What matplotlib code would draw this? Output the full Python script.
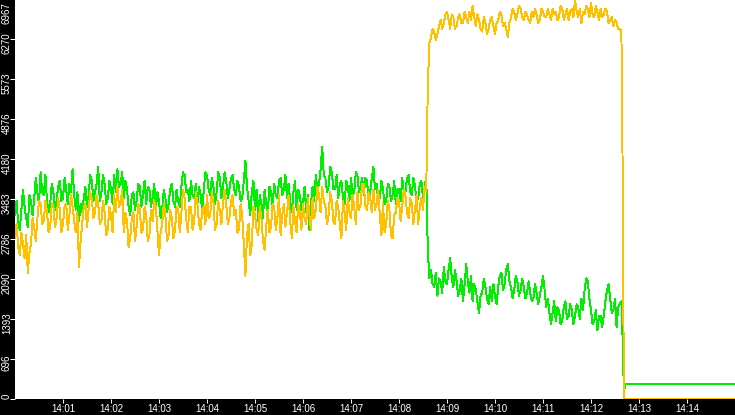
import numpy as np
import matplotlib
matplotlib.use("Agg")
import matplotlib.pyplot as plt

# ---- data ----
# sample times in seconds after 14:00:00
t_pre = np.arange(0, 516, 2)
t_post = np.arange(516, 760, 2)
t_tail = [760, 761, 763, 900]

green_pre = [
    3200, 3450, 3050, 2950, 3300, 3650, 3350, 3150, 3000, 3550, 3450, 3200, 3500, 3850, 3600, 3400, 3950, 3600, 3550, 3900,
    3450, 3250, 3400, 3750, 3600, 3300, 3450, 3700, 3800, 3450, 3500, 3850, 3650, 3400, 3750, 3600, 4000, 3550, 3300, 3600,
    3100, 3400, 3250, 3500, 3700, 3350, 3550, 3900, 3800, 3450, 3600, 3750, 4050, 3450, 3600, 3900, 3750, 3400, 3500, 3800,
    3650, 3400, 3900, 3600, 4000, 3700, 3750, 3950, 3500, 3800, 3650, 3350, 3200, 3550, 3600, 3300, 3450, 3750, 3700, 3350,
    3550, 3800, 3400, 3700, 3650, 3350, 3500, 3750, 3300, 3600, 3450, 3150, 3300, 3650, 3500, 3250, 3400, 3650, 3750, 3450,
    3350, 3650, 3450, 3350, 3700, 3950, 3900, 3600, 3650, 3450, 3800, 3550, 3500, 3750, 3400, 3700, 3550, 3300, 3650, 3950,
    3900, 3650, 3550, 3850, 3700, 3400, 3600, 3950, 3850, 3500, 3700, 3950, 3800, 3500, 3650, 3850, 3900, 3650, 3550, 3800,
    3700, 3450, 3500, 3800, 4150, 3700, 3450, 3200, 3600, 3800, 3300, 3650, 3100, 3550, 3400, 3150, 3650, 3400, 3250, 3700,
    3600, 3350, 3750, 3550, 3500, 3800, 3850, 3550, 3650, 3900, 3500, 3750, 3450, 3250, 3600, 3800, 3300, 3650, 3550, 3300,
    3400, 3700, 3250, 3550, 2950, 3400, 3700, 3450, 3900, 3650, 3750, 4000, 4400, 3900, 3850, 3600, 3700, 4050, 3950, 3650,
    3650, 3900, 3500, 3750, 3800, 3500, 3400, 3800, 3700, 3450, 3850, 3550, 3600, 3950, 3900, 3600, 3700, 3850, 3550, 3850,
    3800, 3500, 3600, 3850, 4050, 3650, 3750, 3450, 3500, 3800, 3650, 3400, 3450, 3750, 3700, 3450, 3550, 3800, 3400, 3650,
    3650, 3450, 3850, 3600, 3600, 3850, 3900, 3600, 3550, 3850, 3700, 3450, 3500, 3750, 3800, 3500, 3650, 3900,
]
orange_pre = [
    2800, 3050, 2650, 2500, 2900, 2700, 2450, 2850, 2200, 2550, 2700, 3150, 3000, 2750, 3150, 3450, 3400, 3050, 3100, 3450,
    3250, 2900, 3000, 3400, 3350, 3000, 3150, 3500, 3300, 2900, 3050, 3350, 3400, 2950, 3200, 3550, 3350, 3100, 2900, 3250,
    2300, 2750, 3050, 3350, 3400, 3000, 3300, 3600, 3500, 3150, 3250, 3550, 3400, 3050, 3100, 3450, 3250, 2850, 2950, 3350,
    3200, 2900, 3550, 3250, 3700, 3350, 3400, 3650, 2900, 3250, 3100, 2650, 2800, 3150, 3250, 2750, 3000, 3400, 3300, 2900,
    2950, 3350, 3200, 2750, 2850, 3300, 3100, 3450, 3350, 2950, 2500, 2900, 3050, 3400, 3200, 2750, 2850, 3300, 3150, 2800,
    2950, 3350, 3300, 2900, 3250, 3650, 3500, 3150, 2900, 3350, 3350, 2950, 3100, 3600, 3400, 3050, 2950, 3300, 3350, 3050,
    3550, 3150, 3200, 3600, 3450, 2950, 3050, 3450, 3300, 3050, 3400, 3650, 3400, 3050, 3150, 3450, 3550, 3200, 3300, 2900,
    2950, 3400, 3200, 2700, 2150, 2850, 3050, 2500, 2700, 3350, 3200, 2950, 2850, 3350, 3150, 2750, 2600, 3000, 3300, 2900,
    3000, 3400, 3350, 2950, 3150, 3550, 2850, 3200, 3400, 3000, 3250, 3550, 3100, 2800, 3350, 3100, 2900, 3400, 3250, 2950,
    3400, 3150, 3050, 3500, 3200, 2950, 3500, 3150, 3300, 3700, 3550, 3250, 3700, 3450, 3350, 3050, 3200, 3600, 3450, 3100,
    3050, 3450, 3350, 3050, 2800, 3450, 3250, 2950, 3500, 3250, 3150, 3550, 3350, 3050, 3600, 3300, 3400, 3750, 3750, 3350,
    3300, 3600, 3500, 3250, 3650, 3300, 3400, 3650, 3200, 2850, 3400, 2900, 3050, 3450, 3300, 2850, 2800, 3200, 3250, 3500,
    3450, 3100, 3350, 3650, 3550, 3250, 3150, 3500, 3400, 3050, 3300, 3550, 3050, 3350, 3500, 3300, 3700, 3600,
]
green_post = [
    2600, 2100, 2250, 2000, 1950, 2200, 1800, 2100, 2050, 1850, 2300, 2050, 2000, 2250, 2450, 2100, 1950, 2250, 2050, 1800,
    1900, 2100, 1700, 2000, 2350, 2050, 1850, 2150, 1700, 2000, 1900, 1700, 1500, 1800, 1850, 2100, 1950, 1750, 1650, 1950,
    1700, 2000, 1800, 1650, 1950, 2150, 2200, 1900, 2000, 2250, 2350, 2050, 1950, 1750, 1900, 2150, 2050, 1800, 1900, 2100,
    1950, 1750, 1850, 2050, 1850, 1700, 1750, 2000, 1850, 1650, 1800, 1950, 2150, 1900, 1600, 1750, 1500, 1300, 1500, 1700,
    1350, 1600, 1550, 1300, 1350, 1600, 1700, 1400, 1450, 1650, 1550, 1300, 1450, 1650, 1600, 1400, 1750, 1550, 1900, 2100,
    2050, 1750, 1550, 1300, 1350, 1550, 1200, 1450, 1450, 1250, 1450, 1700, 1900, 2000, 1750, 1500, 1550, 1750, 1250, 1600,
    1650, 1700,
]
orange_post = [
    5450, 6200, 6300, 6450, 6400, 6250, 6350, 6500, 6600, 6450, 6550, 6700, 6750, 6600, 6450, 6700, 6650, 6450, 6500, 6650,
    6700, 6550, 6550, 6750, 6650, 6550, 6750, 6600, 6850, 6650, 6500, 6700, 6600, 6450, 6400, 6650, 6550, 6350, 6450, 6600,
    6650, 6500, 6350, 6550, 6600, 6750, 6700, 6500, 6550, 6450, 6300, 6550, 6650, 6800, 6750, 6600, 6700, 6850, 6800, 6650,
    6600, 6750, 6700, 6600, 6550, 6750, 6650, 6800, 6700, 6550, 6600, 6800, 6750, 6650, 6650, 6800, 6700, 6600, 6800, 6700,
    6750, 6600, 6650, 6850, 6800, 6600, 6700, 6800, 6600, 6750, 6800, 6650, 6950, 6750, 6650, 6800, 6550, 6750, 6700, 6850,
    6800, 6650, 6900, 6700, 6650, 6850, 6750, 6600, 6800, 6650, 6700, 6800, 6750, 6550, 6600, 6650, 6500, 6600, 6550, 6450,
    6450, 6400,
]
green_tail = [850, 120, 265, 265]
orange_tail = [3300, 0, 0, 0]

x_tick_sec = [60 * m for m in range(1, 15)]
x_tick_labels = ["14:%02d" % m for m in range(1, 15)]
y_ticks = [0, 696, 1393, 2090, 2786, 3483, 4180, 4876, 5573, 6270, 6967]
y_tick_labels = [str(v) for v in y_ticks]

# ---- figure ----
W, H = 735, 415
FONT = dict(family=["Liberation Sans", "DejaVu Sans"], size=7)
fig = plt.figure(figsize=(W / 100, H / 100), dpi=100, facecolor="black")
ax = fig.add_axes([15 / W, 16 / H, 720 / W, 399 / H])
ax.set_facecolor("white")
for s in ax.spines.values():
    s.set_visible(False)

t_all = np.concatenate([t_pre, t_post, t_tail])
green = np.concatenate([green_pre, green_post, green_tail])
orange = np.concatenate([orange_pre, orange_post, orange_tail])

ax.plot(t_all, green, color="#00ee00", lw=0.7, antialiased=False)
ax.plot(t_all, orange, color="#ffc000", lw=0.7, antialiased=False)

YMAX = 6951
ax.set_xlim(0, 900)
ax.set_ylim(0, YMAX)

ax.set_xticks(x_tick_sec, labels=x_tick_labels)
ax.tick_params(axis="x", colors="white", length=3.0, width=0.75, pad=0.3,
               direction="out")
for lab in ax.get_xticklabels():
    lab.set_fontfamily(FONT["family"])
    lab.set_fontsize(FONT["size"])
ax.set_yticks([v for v in y_ticks if v <= YMAX])
ax.tick_params(axis="y", colors="white", length=3.6, width=0.75,
               labelleft=False, direction="out")

ytrans = ax.get_yaxis_transform()
for v, lab in zip(y_ticks, y_tick_labels):
    if v == 0:
        va, dy, yy = "bottom", 0, v
    elif v > YMAX:
        va, dy, yy = "top", -2, YMAX
    else:
        va, dy, yy = "center", -4, v
    ax.annotate(lab, xy=(0, yy), xycoords=ytrans, xytext=(-8, dy),
                textcoords="offset pixels", rotation=90, ha="center", va=va,
                color="white", annotation_clip=False, **FONT)

fig.savefig("out.png", dpi=100, facecolor="black")
